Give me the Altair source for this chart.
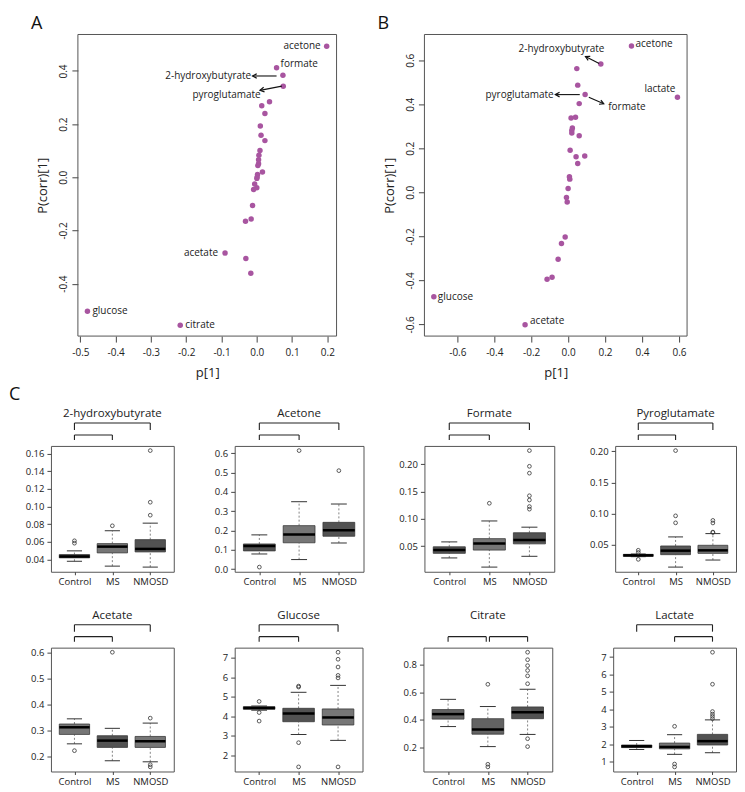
import altair as alt
import pandas as pd

FONT = "Open Sans"
PURPLE = "#a855a0"
MINUS_FIX = "replace(format(datum.value, '.1f'), '\u2212', '-')"

# ---------------- Panel A (OPLS-DA loadings) ----------------
A_x = [0.198, 0.056, 0.074, 0.075, 0.036, 0.014, 0.023, 0.010, 0.012, 0.023,
       0.009, 0.006, 0.005, 0.005, 0.003, 0.016, 0.002, 0.001, 0.000, -0.006,
       0.000, -0.009, -0.012, -0.016, -0.032, -0.090, -0.031, -0.017, -0.480, -0.217]
A_y = [0.493, 0.412, 0.384, 0.342, 0.284, 0.269, 0.240, 0.193, 0.158, 0.138,
       0.101, 0.083, 0.066, 0.051, 0.044, 0.020, 0.011, 0.001, -0.004, -0.025,
       -0.039, -0.046, -0.106, -0.157, -0.165, -0.285, -0.305, -0.361, -0.504, -0.556]
A_names = ["acetone", "formate", "2-hydroxybutyrate", "pyroglutamate"] + [""] * 21 + \
          ["acetate", "", "", "glucose", "citrate"]
A_xticks = [-0.5, -0.4, -0.3, -0.2, -0.1, 0.0, 0.1, 0.2]
A_yticks = [-0.4, -0.2, 0.0, 0.2, 0.4]

# ---------------- Panel B ----------------
B_x = [0.343, 0.177, 0.047, 0.052, 0.092, 0.592, 0.060, 0.016, 0.040, 0.023,
       0.020, 0.020, 0.060, 0.011, 0.043, 0.090, 0.052, 0.007, 0.009, 0.000,
       -0.009, -0.005, -0.016, -0.036, -0.054, -0.087, -0.114, -0.727, -0.233]
B_y = [0.665, 0.583, 0.562, 0.487, 0.444, 0.432, 0.403, 0.338, 0.341, 0.292,
       0.281, 0.269, 0.257, 0.191, 0.162, 0.165, 0.131, 0.071, 0.060, 0.017,
       -0.023, -0.044, -0.203, -0.232, -0.304, -0.386, -0.395, -0.474, -0.602]
B_names = ["acetone", "2-hydroxybutyrate", "", "", "pyroglutamate/formate", "lactate"] + \
          [""] * 21 + ["glucose", "acetate"]
B_xticks = [-0.6, -0.4, -0.2, 0.0, 0.2, 0.4, 0.6]
B_yticks = [-0.6, -0.4, -0.2, 0.0, 0.2, 0.4, 0.6]

# ---------------- Panel C (box plots): whisker low, Q1, median, Q3, whisker high ----------------
GROUPS = ["Control", "MS", "NMOSD"]
BOX = {
    "2-hydroxybutyrate": {
        "Control": [0.038, 0.0419, 0.0434, 0.0456, 0.0498],
        "MS": [0.0325, 0.0475, 0.0546, 0.0580, 0.0726],
        "NMOSD": [0.0314, 0.0486, 0.0520, 0.0625, 0.0812]},
    "Acetone": {
        "Control": [0.078, 0.094, 0.119, 0.130, 0.177],
        "MS": [0.049, 0.136, 0.179, 0.225, 0.349],
        "NMOSD": [0.135, 0.170, 0.201, 0.242, 0.337]},
    "Formate": {
        "Control": [0.0284, 0.0368, 0.0428, 0.0488, 0.0578],
        "MS": [0.0116, 0.0428, 0.0548, 0.0638, 0.0962],
        "NMOSD": [0.0314, 0.0542, 0.0614, 0.0746, 0.0848]},
    "Pyroglutamate": {
        "Control": [0.0313, 0.0318, 0.0334, 0.0350, 0.0355],
        "MS": [0.0146, 0.0345, 0.0409, 0.0484, 0.0629],
        "NMOSD": [0.0259, 0.0366, 0.0414, 0.0495, 0.0682]},
    "Acetate": {
        "Control": [0.2497, 0.2857, 0.313, 0.3255, 0.3453],
        "MS": [0.185, 0.236, 0.262, 0.2807, 0.309],
        "NMOSD": [0.181, 0.236, 0.2596, 0.278, 0.329]},
    "Glucose": {
        "Control": [4.31, 4.357, 4.424, 4.49, 4.525],
        "MS": [3.06, 3.717, 4.138, 4.407, 5.23],
        "NMOSD": [2.758, 3.549, 3.936, 4.374, 5.586]},
    "Citrate": {
        "Control": [0.352, 0.406, 0.442, 0.475, 0.549],
        "MS": [0.207, 0.297, 0.331, 0.409, 0.497],
        "NMOSD": [0.295, 0.409, 0.456, 0.494, 0.622]},
    "Lactate": {
        "Control": [1.685, 1.796, 1.87, 1.944, 2.204],
        "MS": [1.407, 1.722, 1.833, 2.055, 2.537],
        "NMOSD": [1.50, 1.944, 2.167, 2.556, 3.389]},
}
OUTLIERS = {
    "2-hydroxybutyrate": {"Control": [0.0585, 0.0612], "MS": [0.0782], "NMOSD": [0.0902, 0.1049, 0.1634]},
    "Acetone": {"Control": [0.010], "MS": [0.614], "NMOSD": [0.510]},
    "Formate": {"Control": [], "MS": [0.1286],
                "NMOSD": [0.1178, 0.1226, 0.1346, 0.1424, 0.1838, 0.1964, 0.2252]},
    "Pyroglutamate": {"Control": [0.027, 0.038, 0.0415], "MS": [0.0854, 0.0966, 0.201],
                      "NMOSD": [0.0700, 0.0706, 0.0852, 0.0893]},
    "Acetate": {"Control": [0.2236], "MS": [0.600], "NMOSD": [0.348, 0.170, 0.1615]},
    "Glucose": {"Control": [4.76, 4.19, 3.75], "MS": [5.50, 5.55, 2.64, 1.394],
                "NMOSD": [5.97, 6.10, 6.53, 6.93, 7.29, 1.394]},
    "Citrate": {"Control": [], "MS": [0.658, 0.079, 0.060],
                "NMOSD": [0.890, 0.836, 0.793, 0.758, 0.719, 0.662, 0.264, 0.207]},
    "Lactate": {"Control": [], "MS": [3.02, 0.85, 0.685],
                "NMOSD": [3.46, 3.59, 3.72, 3.87, 5.44, 7.28]},
}
BOX_COLORS = {
    "2-hydroxybutyrate": ["#4b4b4b", "#767676", "#525252"],
    "Acetone": ["#525252", "#767676", "#525252"],
    "Formate": ["#525252", "#767676", "#525252"],
    "Pyroglutamate": ["#525252", "#585858", "#767676"],
    "Acetate": ["#767676", "#525252", "#767676"],
    "Glucose": ["#525252", "#525252", "#767676"],
    "Citrate": ["#636363", "#636363", "#525252"],
    "Lactate": ["#525252", "#767676", "#525252"],
}
Y_TICKS = {
    "2-hydroxybutyrate": ([0.04, 0.06, 0.08, 0.10, 0.12, 0.14, 0.16], ".2f"),
    "Acetone": ([0.0, 0.1, 0.2, 0.3, 0.4, 0.5, 0.6], ".1f"),
    "Formate": ([0.05, 0.10, 0.15, 0.20], ".2f"),
    "Pyroglutamate": ([0.05, 0.10, 0.15, 0.20], ".2f"),
    "Acetate": ([0.2, 0.3, 0.4, 0.5, 0.6], ".1f"),
    "Glucose": ([2, 3, 4, 5, 6, 7], "d"),
    "Citrate": ([0.2, 0.4, 0.6, 0.8], ".1f"),
    "Lactate": ([1, 2, 3, 4, 5, 6, 7], "d"),
}
# significance brackets: (from group position, to group position, level)
BRACKETS = {
    "default": [(1, 3, "high"), (1, 2, "low")],
    "Citrate": [(1, 1.96, "low"), (2.04, 3, "low")],
    "Lactate": [(1, 3, "high"), (2, 3, "low")],
}


def spacer(y_px):
    """Invisible mark that reserves room above a panel (layout only)."""
    return alt.Chart(pd.DataFrame({"t": [0]})).mark_rule(opacity=0, strokeWidth=0.5).encode(
        x=alt.value(0), y=alt.value(-y_px), y2=alt.value(-y_px + 2))


def scatter_panel(letter, xs, ys, names, xdom, ydom, xticks, yticks, W, H,
                  point_labels, arrows, arrow_texts, left_ext=0, letter_x=-47):
    df = pd.DataFrame({"x": xs, "y": ys, "name": names})
    # widen the plot area on the left by left_ext pixels (frame drawn separately)
    pxu = W / (xdom[1] - xdom[0])
    dom = [xdom[0] - left_ext / pxu, xdom[1]]
    xsc = alt.Scale(domain=dom, nice=False, zero=False)
    ysc = alt.Scale(domain=ydom, nice=False, zero=False)
    xax = alt.Axis(values=xticks, labelExpr=MINUS_FIX, title="p[1]", tickSize=6,
                   labelPadding=5, titlePadding=9, labelFontSize=10, titleFontSize=13,
                   labelFlush=False, grid=False, domain=False,
                   titleX=left_ext + W / 2)
    yax = alt.Axis(values=yticks, labelExpr=MINUS_FIX, title="P(corr)[1]", tickSize=6,
                   labelPadding=3, titlePadding=9, labelFontSize=10, titleFontSize=13,
                   labelAngle=-90, labelAlign="center", labelBaseline="bottom",
                   labelFlush=False, grid=False, domain=False, offset=-left_ext)

    def X(f):
        return alt.X(f, type="quantitative", scale=xsc, axis=xax)

    def Y(f):
        return alt.Y(f, type="quantitative", scale=ysc, axis=yax)

    one = pd.DataFrame({"t": [letter]})
    layers = [
        alt.Chart(one).mark_rect(fillOpacity=0, stroke="#555", strokeWidth=1).encode(
            x=alt.value(left_ext), x2=alt.value(left_ext + W), y=alt.value(0), y2=alt.value(H)),
        alt.Chart(df).mark_circle(size=30, color=PURPLE, opacity=1).encode(x=X("x"), y=Y("y")),
    ]
    for name, align, dx, dy in point_labels:
        layers.append(
            alt.Chart(df).transform_filter(alt.datum.name == name)
            .mark_text(align=align, baseline="middle", dx=dx, dy=dy, fontSize=10,
                       font=FONT, color="#222")
            .encode(x=X("x"), y=Y("y"), text="name:N"))
    adf = pd.DataFrame(arrows, columns=["x", "y", "x2", "y2", "ang"])
    layers.append(alt.Chart(adf).mark_rule(color="#111", strokeWidth=1.1)
                  .encode(x=X("x"), y=Y("y"), x2="x2:Q", y2="y2:Q"))
    layers.append(alt.Chart(adf).mark_point(shape="M-0.55,1L0,0L0.55,1", filled=False,
                                            size=70, color="#111", strokeWidth=1.2, opacity=1)
                  .encode(x=X("x2"), y=Y("y2"), angle=alt.Angle("ang:Q", scale=None)))
    tdf = pd.DataFrame(arrow_texts, columns=["x", "y", "text", "align"])
    for al in ["left", "center", "right"]:
        sub = tdf[tdf["align"] == al]
        if len(sub):
            layers.append(alt.Chart(sub).mark_text(align=al, baseline="middle", fontSize=10,
                                                   font=FONT, color="#222")
                          .encode(x=X("x"), y=Y("y"), text="text:N"))
    layers.append(alt.Chart(one).mark_text(align="left", baseline="top", fontSize=18,
                                           font=FONT, color="#111")
                  .encode(x=alt.value(letter_x), y=alt.value(-20), text="t:N"))
    layers.append(spacer(25))
    return alt.layer(*layers).properties(
        width=W + left_ext, height=H, view=alt.ViewBackground(stroke="transparent"))


def box_panel(name, W, H, letter=None, top_spacer=None):
    stats = BOX[name]
    outl = OUTLIERS[name]
    cols = BOX_COLORS[name]
    rows, orows = [], []
    for i, g in enumerate(GROUPS):
        lo, q1, med, q3, hi = stats[g]
        p = i + 1
        rows.append(dict(pos=p, lo=lo, q1=q1, med=med, q3=q3, hi=hi,
                         left=p - 0.4, right=p + 0.4, cl=p - 0.2, cr=p + 0.2, color=cols[i]))
        for o in outl[g]:
            orows.append(dict(pos=p, v=o))
    df = pd.DataFrame(rows)
    odf = pd.DataFrame(orows, columns=["pos", "v"])
    allv = [r["lo"] for r in rows] + [r["hi"] for r in rows] + list(odf["v"])
    vmin, vmax = min(allv), max(allv)
    pad = (vmax - vmin) * 0.04
    xsc = alt.Scale(domain=[0.38, 3.62], nice=False, zero=False)
    ysc = alt.Scale(domain=[vmin - pad, vmax + pad], nice=False, zero=False)
    yvals, yfmt = Y_TICKS[name]
    xax = alt.Axis(values=[1, 2, 3], title=None, grid=False, domain=False, tickSize=3,
                   labelPadding=2, labelFontSize=9.5,
                   labelExpr="datum.value == 1 ? 'Control' : datum.value == 2 ? 'MS' : 'NMOSD'")
    yax = alt.Axis(values=yvals, format=yfmt, title=None, grid=False, domain=False,
                   tickSize=4, labelPadding=3, labelFontSize=9.5)

    def X(f):
        return alt.X(f, type="quantitative", scale=xsc, axis=xax)

    def Y(f):
        return alt.Y(f, type="quantitative", scale=ysc, axis=yax)

    base = alt.Chart(df)
    layers = [
        base.mark_rule(color="#777", strokeWidth=0.9, strokeDash=[2, 2]).encode(x=X("pos"), y=Y("q3"), y2="hi:Q"),
        base.mark_rule(color="#777", strokeWidth=0.9, strokeDash=[2, 2]).encode(x=X("pos"), y=Y("lo"), y2="q1:Q"),
        base.mark_rule(color="#333", strokeWidth=1).encode(x=X("cl"), x2="cr:Q", y=Y("hi")),
        base.mark_rule(color="#333", strokeWidth=1).encode(x=X("cl"), x2="cr:Q", y=Y("lo")),
        base.mark_rect(stroke="#3a3a3a", strokeWidth=0.8).encode(
            x=X("left"), x2="right:Q", y=Y("q1"), y2="q3:Q", fill=alt.Fill("color:N", scale=None)),
        base.mark_rule(color="#000", strokeWidth=2.5).encode(x=X("left"), x2="right:Q", y=Y("med")),
        alt.Chart(odf).mark_point(shape="circle", filled=False, size=14, color="#333",
                                  strokeWidth=0.8, opacity=1).encode(x=X("pos"), y=Y("v")),
    ]
    levels = {"high": (23, 7), "low": (11, 5)}
    for a, b, lev in BRACKETS.get(name, BRACKETS["default"]):
        top, tick = levels[lev]
        bdf = pd.DataFrame({"a": [a], "b": [b]})
        bc = alt.Chart(bdf)
        layers.append(bc.mark_rule(color="#222", strokeWidth=1.1).encode(
            x=X("a"), x2="b:Q", y=alt.value(-top)))
        layers.append(bc.mark_rule(color="#222", strokeWidth=1.1).encode(
            x=X("a"), y=alt.value(-top), y2=alt.value(-top + tick)))
        layers.append(bc.mark_rule(color="#222", strokeWidth=1.1).encode(
            x=X("b"), y=alt.value(-top), y2=alt.value(-top + tick)))
    tdf = pd.DataFrame({"t": [name]})
    layers.append(alt.Chart(tdf).mark_text(align="center", baseline="middle", fontSize=11.5,
                                           font=FONT, color="#222")
                  .encode(x=alt.value(W / 2), y=alt.value(-32), text="t:N"))
    if letter:
        layers.append(alt.Chart(pd.DataFrame({"t": [letter]})).mark_text(
            align="left", baseline="top", fontSize=18, font=FONT, color="#111")
            .encode(x=alt.value(-42), y=alt.value(-60), text="t:N"))
    if top_spacer is not None:
        layers.append(spacer(top_spacer))
    return alt.layer(*layers).properties(width=W, height=H)


A_labels = [("acetone", "right", -6, 0), ("formate", "left", 4, -4), ("acetate", "right", -7, 0),
            ("glucose", "left", 5, 0), ("citrate", "left", 5, 0)]
A_arrows = [(0.056, 0.381, -0.012, 0.381, 270), (0.071, 0.343, 0.009, 0.327, 259)]
A_arrow_texts = [(-0.016, 0.381, "2-hydroxybutyrate", "right"), (0.011, 0.308, "pyroglutamate", "right")]

B_labels = [("acetone", "left", 4, -2), ("lactate", "right", -2, -8),
            ("glucose", "left", 4, 0), ("acetate", "left", 5, -4)]
B_arrows = [(0.168, 0.585, 0.094, 0.617, 297), (0.063, 0.444, -0.069, 0.444, 270),
            (0.112, 0.432, 0.193, 0.402, 114)]
B_arrow_texts = [(-0.036, 0.650, "2-hydroxybutyrate", "center"),
                 (-0.078, 0.444, "pyroglutamate", "right"),
                 (0.217, 0.388, "formate", "left")]

panelA = scatter_panel("A", A_x, A_y, A_names, [-0.507, 0.226], [-0.597, 0.537],
                       A_xticks, A_yticks, 259, 302, A_labels, A_arrows, A_arrow_texts,
                       left_ext=27, letter_x=-20)
panelB = scatter_panel("B", B_x, B_y, B_names, [-0.778, 0.644], [-0.653, 0.717],
                       B_xticks, B_yticks, 263, 302, B_labels, B_arrows, B_arrow_texts,
                       left_ext=0, letter_x=-47)

row1 = [box_panel("2-hydroxybutyrate", 123, 126, letter="C"),
        box_panel("Acetone", 129, 126),
        box_panel("Formate", 130, 126),
        box_panel("Pyroglutamate", 121, 126)]
row2 = [box_panel("Acetate", 123, 124, top_spacer=55),
        box_panel("Glucose", 128, 124),
        box_panel("Citrate", 129, 124),
        box_panel("Lactate", 123, 124)]

top = alt.hconcat(panelA, panelB, spacing=88, bounds="flush")
r1 = alt.hconcat(*row1, spacing=61, bounds="flush")
r2 = alt.hconcat(*row2, spacing=61, bounds="flush")

chart = (
    alt.vconcat(top, r1, r2, spacing=5)
    .properties(padding=0)
    .configure_view(stroke="#555", strokeWidth=1)
    .configure_axis(labelFont=FONT, titleFont=FONT, labelColor="#222", titleColor="#222",
                    tickColor="#444", titleFontWeight="normal")
)
chart.save("out.html", embed_options={"renderer": "svg", "actions": False})
